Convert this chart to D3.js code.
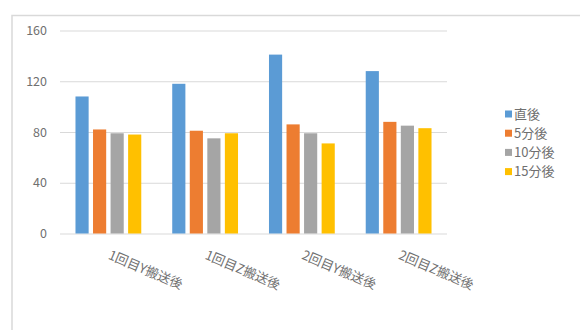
<!DOCTYPE html>
<html>
<head>
<meta charset="utf-8">
<script src="https://cdn.jsdelivr.net/npm/d3@7"></script>
<style>
html,body{margin:0;padding:0;background:#fff;}
svg{display:block;}
text{font-family:"Noto Sans CJK JP","Noto Sans",sans-serif;}
</style>
</head>
<body>
<svg id="chart" width="580" height="330"></svg>
<script>
const categories = ["1回目Y搬送後", "1回目Z搬送後", "2回目Y搬送後", "2回目Z搬送後"];
const seriesNames = ["直後", "5分後", "10分後", "15分後"];
const seriesColors = ["#5B9BD5", "#ED7D31", "#A5A5A5", "#FFC000"];
const vChokugo = [108, 118, 141, 128];
const v5 = [82, 81, 86, 88];
const v10 = [79, 75, 79, 85];
const v15 = [78, 79, 71, 83];
const yTicks = [0, 40, 80, 120, 160];

const seriesValues = [vChokugo, v5, v10, v15];

const svg = d3.select("#chart");
const textColor = "#707070";

// chart frame
svg.append("rect")
  .attr("x", 12).attr("y", 15.5)
  .attr("width", 600).attr("height", 400)
  .attr("fill", "none").attr("stroke", "#d9d9d9").attr("stroke-width", 1.5);

const mLeft = 60, mRight = 447, mTop = 30.5, mBottom = 233.5;

const x0 = d3.scaleBand().domain(categories).range([mLeft, mRight])
  .paddingInner(0.32).paddingOuter(0.16);
const x1 = d3.scaleBand().domain(seriesNames).range([0, x0.bandwidth()])
  .paddingInner(0.25).paddingOuter(0);
const y = d3.scaleLinear().domain([0, 160]).range([mBottom, mTop]);

// gridlines
const yAxis = d3.axisLeft(y).tickValues(yTicks).tickSize(-(mRight - mLeft)).tickPadding(13);
const gy = svg.append("g").attr("transform", `translate(${mLeft},0)`).call(yAxis);
gy.select(".domain").remove();
gy.selectAll(".tick line").attr("stroke", "#d9d9d9").attr("stroke-width", 1);
gy.selectAll(".tick text").attr("fill", textColor).attr("font-size", 12.5);

// bars
const groups = svg.append("g").selectAll("g")
  .data(categories).join("g")
  .attr("transform", d => `translate(${x0(d)},0)`);

groups.selectAll("rect")
  .data((c, ci) => seriesNames.map((s, si) => ({ s, si, v: seriesValues[si][ci] })))
  .join("rect")
  .attr("x", d => x1(d.s))
  .attr("width", x1.bandwidth())
  .attr("y", d => y(d.v))
  .attr("height", d => y(0) - y(d.v))
  .attr("fill", d => seriesColors[d.si]);

// x labels via axis
const xAxis = d3.axisBottom(x0).tickSize(0).tickPadding(0);
const gx = svg.append("g").attr("transform", `translate(0,${mBottom})`).call(xAxis);
gx.select(".domain").remove();
gx.selectAll(".tick text")
  .attr("fill", textColor).attr("font-size", 13)
  .attr("text-anchor", "start")
  .attr("dy", null).attr("y", 0)
  .attr("transform", "translate(-1,25) rotate(23)");

// legend
const legend = svg.append("g").attr("transform", "translate(505,114)");
const li = legend.selectAll("g").data(seriesNames).join("g")
  .attr("transform", (d, i) => `translate(0,${i * 19.2})`);
li.append("rect").attr("x", 0).attr("y", -3.5).attr("width", 7).attr("height", 7)
  .attr("fill", (d, i) => seriesColors[i]);
li.append("text").attr("x", 9).attr("y", 0).attr("dy", "0.35em")
  .attr("fill", textColor).attr("font-size", 13).text(d => d);
</script>
</body>
</html>
